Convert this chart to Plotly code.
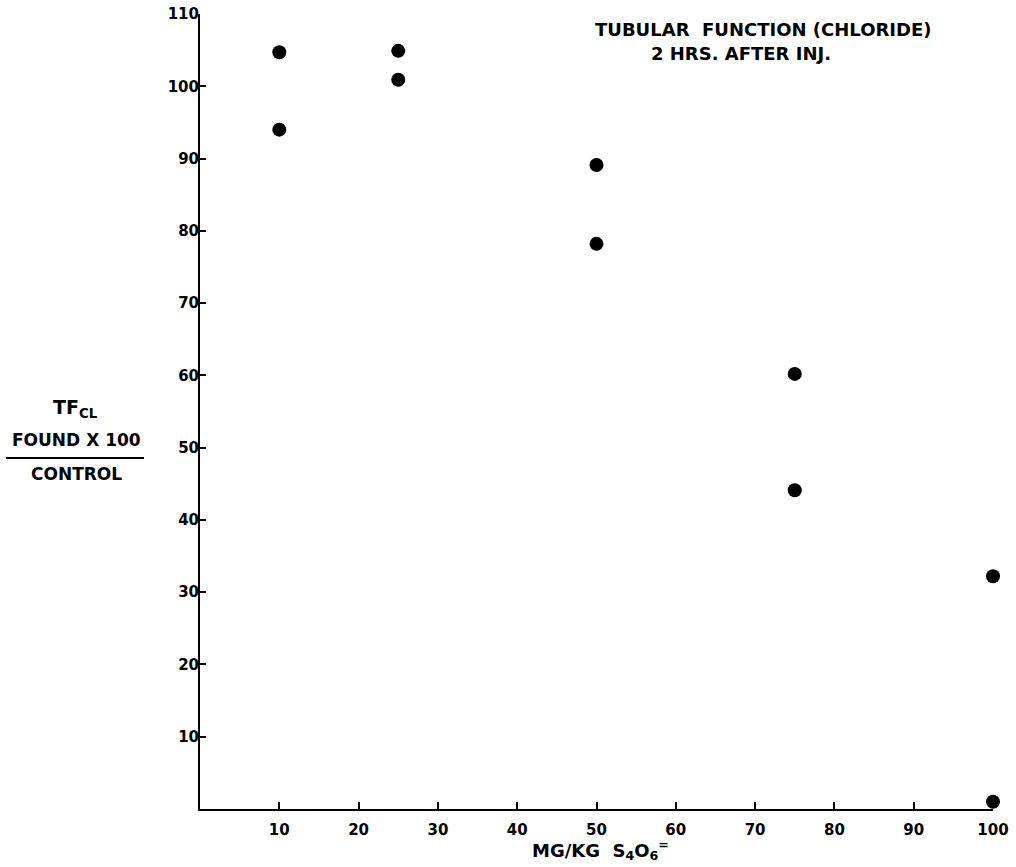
import plotly.graph_objects as go

dose_mgkg = [10, 10, 25, 25, 50, 50, 75, 75, 100, 100]
tf_cl_pct = [104.7, 94.0, 104.9, 100.9, 89.1, 78.2, 60.2, 44.1, 32.2, 1.0]

x_ticks = [10, 20, 30, 40, 50, 60, 70, 80, 90, 100]
y_ticks = [10, 20, 30, 40, 50, 60, 70, 80, 90, 100, 110]

FONT = "DejaVu Sans"

W, H = 1016, 867
L, R, T, B = 200, 23, 14, 58
PW = W - L - R
PH = H - T - B


def px(xs):
    # screen x -> paper
    return (xs - L) / PW


def py(ys):
    # screen y -> paper
    return (H - B - ys) / PH


fig = go.Figure()
fig.add_trace(go.Scatter(
    x=dose_mgkg, y=tf_cl_pct, mode="markers",
    marker=dict(color="black", size=14),
    cliponaxis=False, showlegend=False,
))

tickfont = dict(family=FONT, size=15, color="black", weight="bold")

fig.update_layout(
    width=W, height=H,
    margin=dict(l=L, r=R, t=T, b=B, autoexpand=False),
    paper_bgcolor="white", plot_bgcolor="white",
    font=dict(family=FONT, color="black", size=14),
    xaxis=dict(
        range=[0, 100], tickvals=x_ticks, ticktext=[str(v) for v in x_ticks],
        showgrid=False, zeroline=False, showline=True, linecolor="black", linewidth=2,
        ticks="inside", ticklen=7, tickwidth=2, tickcolor="black",
        tickfont=tickfont, automargin=False, ticklabelstandoff=6,
        ticklabeloverflow="allow",
    ),
    yaxis=dict(
        range=[0, 110], tickvals=y_ticks, ticktext=[str(v) for v in y_ticks],
        showgrid=False, zeroline=False, showline=True, linecolor="black", linewidth=2,
        ticks="inside", ticklen=6, tickwidth=2, tickcolor="black",
        tickfont=tickfont, automargin=False, ticklabelstandoff=-4,
        ticklabeloverflow="allow",
    ),
)

bold = dict(family=FONT, size=17, color="black", weight="bold")
title_font = dict(family=FONT, size=18, color="black", weight="bold")

# Title block
fig.add_annotation(text="TUBULAR&nbsp;&nbsp;FUNCTION (CHLORIDE)", xref="paper", yref="paper",
                   x=px(763), y=py(30), showarrow=False,
                   xanchor="center", yanchor="middle", font=title_font)
fig.add_annotation(text="2 HRS. AFTER INJ.", xref="paper", yref="paper",
                   x=px(741), y=py(54), showarrow=False,
                   xanchor="center", yanchor="middle", font=title_font)

# X axis title
fig.add_annotation(text="MG/KG&nbsp;&nbsp;S<sub>4</sub>O<sub>6</sub><sup>=</sup>", xref="paper", yref="paper",
                   x=px(600), y=py(850), showarrow=False,
                   xanchor="center", yanchor="middle",
                   font=dict(family=FONT, size=18, color="black", weight="bold"))

# Y axis title (fraction)
fig.add_annotation(text="TF<sub>CL</sub>", xref="paper", yref="paper",
                   x=px(75), y=py(408), showarrow=False,
                   xanchor="center", yanchor="middle", font=dict(family=FONT, size=19, color="black", weight="bold"))
fig.add_annotation(text="FOUND X 100", xref="paper", yref="paper",
                   x=px(76), y=py(440), showarrow=False,
                   xanchor="center", yanchor="middle", font=bold)
fig.add_annotation(text="CONTROL", xref="paper", yref="paper",
                   x=px(76), y=py(474), showarrow=False,
                   xanchor="center", yanchor="middle", font=bold)
fig.add_shape(type="line", xref="paper", yref="paper",
              x0=px(6), x1=px(144), y0=py(458), y1=py(458),
              line=dict(color="black", width=2))

fig.write_html("out.html", config={"displayModeBar": False},
               post_script="document.body.style.margin='0';")
